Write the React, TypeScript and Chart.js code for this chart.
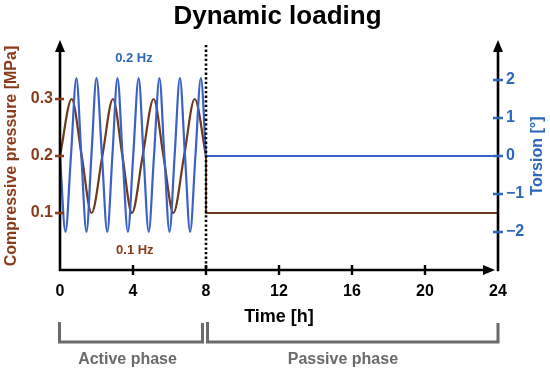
import { useEffect, useRef } from "react";
import { Chart, registerables } from "chart.js";

Chart.register(...registerables);

// ---------- data ----------
const xTicks = [0, 4, 8, 12, 16, 20, 24];
const pressureTicks = [0.1, 0.2, 0.3];
const torsionTicks = [-2, -1, 0, 1, 2];

// active phase, compressive pressure (MPa), "0.1 Hz"
const activeHours = [0, 0.64, 1.19, 1.73, 2.32, 2.9, 3.42, 3.94, 4.53, 5.13, 5.67, 6.21, 6.8, 7.38, 8.0];
const activePressure = [0.2, 0.3, 0.2, 0.1, 0.2, 0.3, 0.2, 0.1, 0.2, 0.3, 0.2, 0.1, 0.2, 0.3, 0.2];

// active phase, torsion (deg), "0.2 Hz"
const torsionHours = [
  0, 0.3, 0.6, 0.9, 1.17, 1.45, 1.72, 2.0, 2.3, 2.59, 2.87, 3.15, 3.43, 3.72, 4.01,
  4.31, 4.58, 4.86, 5.15, 5.45, 5.72, 6.0, 6.28, 6.57, 6.85, 7.13, 7.42, 7.72, 8.0,
];
const torsionDeg = [
  0, -2, 0, 2.05, 0, -2, 0, 2.05, 0, -2, 0, 2.05, 0, -2, 0,
  2.05, 0, -2, 0, 2.05, 0, -2, 0, 2.05, 0, -2, 0, 2.05, 0,
];

// passive phase
const passiveHours = [8, 8, 24];
const passivePressure = [0.2, 0.1, 0.1];
const passiveTorsionHours = [8, 24];
const passiveTorsion = [0, 0];

const phaseBreak = 8;
const titleText = "Dynamic loading";
const torsionTitle = "Torsion [°]";
const activeLabel = "Active phase";
const passiveLabel = "Passive phase";

// ---------- styles ----------
const FONT = "'Liberation Sans', Arial, Helvetica, sans-serif";
const brownLine = "#6c3a1c";
const brownText = "#8a3b1b";
const blueLine = "#3b60c6";
const blueText = "#2d67bd";
const grey = "#6a6a6a";

const toXY = (xs: number[], ys: number[]) => xs.map((x, i) => ({ x, y: ys[i] }));

const decoPlugin = {
  id: "deco",
  afterDatasetsDraw(chart: any) {
    const { ctx, chartArea } = chart;
    const { left, right, top, bottom } = chartArea;
    const xs = chart.scales.x;
    const ys = chart.scales.y;
    const y2 = chart.scales.y2;
    ctx.save();

    // dotted divider
    const xb = xs.getPixelForValue(phaseBreak);
    ctx.strokeStyle = "#000";
    ctx.lineWidth = 2.6;
    ctx.setLineDash([2.3, 2.3]);
    ctx.beginPath();
    ctx.moveTo(xb, top + 3);
    ctx.lineTo(xb, bottom);
    ctx.stroke();
    ctx.setLineDash([]);

    // axes lines
    ctx.lineWidth = 2.6;
    ctx.strokeStyle = "#000";
    ctx.fillStyle = "#000";
    ctx.beginPath();
    ctx.moveTo(left, bottom + 1.3);
    ctx.lineTo(left, top + 6);
    ctx.moveTo(left - 1.3, bottom);
    ctx.lineTo(right - 10, bottom);
    ctx.moveTo(right, bottom + 1.3);
    ctx.lineTo(right, top + 6);
    ctx.stroke();

    const arrowUp = (x: number, tipY: number) => {
      ctx.beginPath();
      ctx.moveTo(x, tipY);
      ctx.lineTo(x - 5, tipY + 12);
      ctx.lineTo(x + 5, tipY + 12);
      ctx.closePath();
      ctx.fill();
    };
    arrowUp(left, top - 2);
    arrowUp(right, top - 2);
    // x arrow
    ctx.beginPath();
    ctx.moveTo(right - 3, bottom);
    ctx.lineTo(right - 15, bottom - 5);
    ctx.lineTo(right - 15, bottom + 5);
    ctx.closePath();
    ctx.fill();

    // tick marks
    ctx.lineWidth = 2.4;
    ctx.strokeStyle = "#000";
    ctx.beginPath();
    xTicks.forEach((v) => {
      if (v === 0 || v === 24) return;
      const px = xs.getPixelForValue(v);
      ctx.moveTo(px, bottom - 5);
      ctx.lineTo(px, bottom + 5);
    });
    ctx.stroke();
    ctx.strokeStyle = brownText;
    ctx.beginPath();
    pressureTicks.forEach((v) => {
      const py = ys.getPixelForValue(v);
      ctx.moveTo(left - 5, py);
      ctx.lineTo(left + 4, py);
    });
    ctx.stroke();
    ctx.strokeStyle = blueText;
    ctx.beginPath();
    torsionTicks.forEach((v) => {
      const py = y2.getPixelForValue(v);
      ctx.moveTo(right - 5, py);
      ctx.lineTo(right + 5, py);
    });
    ctx.stroke();

    // frequency labels
    ctx.font = `bold 13px ${FONT}`;
    ctx.textAlign = "center";
    ctx.textBaseline = "middle";
    ctx.fillStyle = blueText;
    ctx.fillText("0.2 Hz", xs.getPixelForValue(4.05), y2.getPixelForValue(2.58));
    ctx.fillStyle = brownText;
    ctx.fillText("0.1 Hz", xs.getPixelForValue(4.1), ys.getPixelForValue(0.035));

    // right axis title, reading bottom-to-top
    ctx.save();
    ctx.translate(538, (top + bottom) / 2);
    ctx.rotate(-Math.PI / 2);
    ctx.fillStyle = blueText;
    ctx.font = `bold 16px ${FONT}`;
    ctx.fillText(torsionTitle, 0, 0);
    ctx.restore();

    // title
    ctx.fillStyle = "#000";
    ctx.font = `bold 26px ${FONT}`;
    ctx.textBaseline = "alphabetic";
    ctx.fillText(titleText, 277.5, 24);

    // brackets
    ctx.strokeStyle = grey;
    ctx.lineWidth = 3;
    const bTop = bottom + 52;
    const bBot = bottom + 72;
    const bracket = (x0: number, x1: number) => {
      ctx.beginPath();
      ctx.moveTo(x0, bTop);
      ctx.lineTo(x0, bBot);
      ctx.lineTo(x1, bBot);
      ctx.lineTo(x1, bTop + 1);
      ctx.stroke();
    };
    bracket(xs.getPixelForValue(0) - 0.5, xs.getPixelForValue(phaseBreak) - 3.5);
    bracket(xs.getPixelForValue(phaseBreak) + 1.5, xs.getPixelForValue(24));

    ctx.fillStyle = grey;
    ctx.font = `bold 16px ${FONT}`;
    ctx.textBaseline = "middle";
    ctx.fillText(activeLabel, xs.getPixelForValue(3.7), bottom + 90);
    ctx.fillText(passiveLabel, xs.getPixelForValue(15.5), bottom + 90);

    ctx.restore();
  },
};

export default function App() {
  const ref = useRef<HTMLCanvasElement | null>(null);

  useEffect(() => {
    if (!ref.current) return;
    const chart = new Chart(ref.current, {
      type: "line",
      data: {
        datasets: [
          {
            data: toXY(torsionHours, torsionDeg),
            yAxisID: "y2",
            borderColor: blueLine,
            borderWidth: 2.2,
            pointRadius: 0,
            cubicInterpolationMode: "monotone",
            fill: false,
          },
          {
            data: toXY(activeHours, activePressure),
            yAxisID: "y",
            borderColor: brownLine,
            borderWidth: 2.2,
            pointRadius: 0,
            cubicInterpolationMode: "monotone",
            fill: false,
          },
          {
            data: toXY(passiveTorsionHours, passiveTorsion),
            yAxisID: "y2",
            borderColor: blueLine,
            borderWidth: 2,
            pointRadius: 0,
            tension: 0,
            fill: false,
          },
          {
            data: toXY(passiveHours, passivePressure),
            yAxisID: "y",
            borderColor: brownLine,
            borderWidth: 2,
            pointRadius: 0,
            tension: 0,
            fill: false,
          },
        ],
      },
      options: {
        responsive: false,
        animation: false,
        layout: { padding: { top: 42, left: 0, right: 0, bottom: 0 } },
        plugins: {
          legend: { display: false },
          tooltip: { enabled: false },
          title: { display: false },
        },
        scales: {
          x: {
            type: "linear",
            min: 0,
            max: 24,
            afterBuildTicks: (s: any) => {
              s.ticks = xTicks.map((v) => ({ value: v }));
            },
            afterFit: (s: any) => {
              s.height = 106;
            },
            grid: { display: false, drawTicks: false },
            border: { display: false },
            ticks: {
              padding: 12,
              color: "#000",
              font: { family: FONT, size: 16, weight: "bold" },
              maxRotation: 0,
              autoSkip: false,
            },
            title: {
              display: true,
              text: "Time [h]",
              color: "#000",
              font: { family: FONT, size: 18, weight: "bold" },
              padding: { top: 0, bottom: 48 },
            },
          },
          y: {
            type: "linear",
            position: "left",
            min: 0,
            max: 0.4,
            afterBuildTicks: (s: any) => {
              s.ticks = pressureTicks.map((v) => ({ value: v }));
            },
            afterFit: (s: any) => {
              s.width = 60;
            },
            grid: { display: false, drawTicks: false },
            border: { display: false },
            ticks: {
              padding: 7,
              color: brownText,
              font: { family: FONT, size: 16, weight: "bold" },
              callback: (v: any) => Number(v).toFixed(1),
            },
            title: {
              display: true,
              text: "Compressive pressure [MPa]",
              color: brownText,
              font: { family: FONT, size: 16, weight: "bold" },
              padding: { top: 1.5, bottom: 0 },
            },
          },
          y2: {
            type: "linear",
            position: "right",
            min: -3,
            max: 3,
            afterBuildTicks: (s: any) => {
              s.ticks = torsionTicks.map((v) => ({ value: v }));
            },
            afterFit: (s: any) => {
              s.width = 52;
            },
            grid: { display: false, drawTicks: false },
            border: { display: false },
            ticks: {
              padding: 8,
              color: blueText,
              font: { family: FONT, size: 16, weight: "bold" },
              callback: (v: any) => (Number(v) < 0 ? "\u2212" + Math.abs(Number(v)) : String(v)),
            },
            title: { display: false },
          },
        },
      },
      plugins: [decoPlugin],
    } as any);
    return () => chart.destroy();
  }, []);

  return (
    <div style={{ position: "fixed", left: 0, top: 0, width: 550, height: 376, background: "#fff" }}>
      <canvas ref={ref} width={550} height={376} style={{ display: "block" }} />
    </div>
  );
}
